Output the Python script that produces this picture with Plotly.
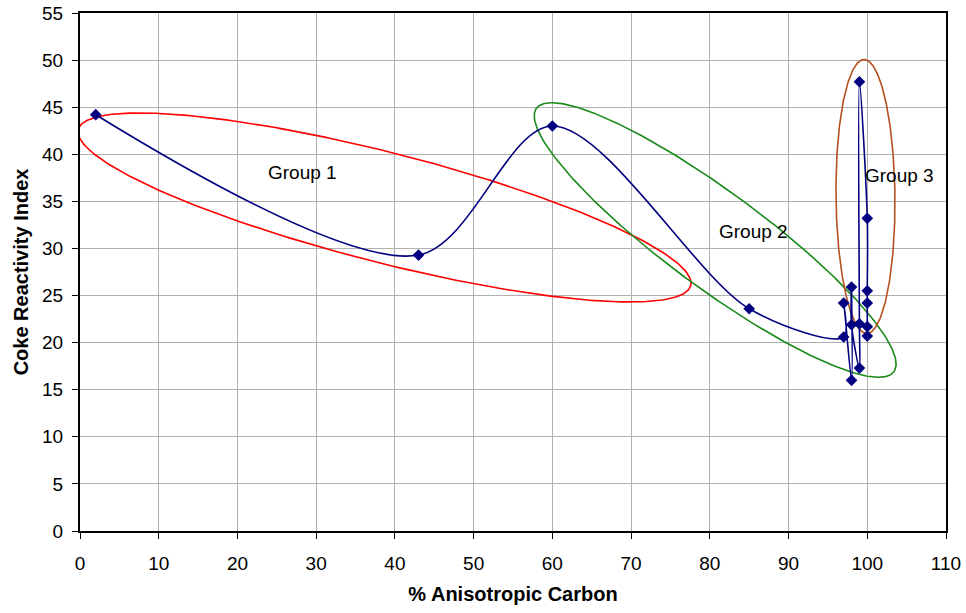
import numpy as np
import plotly.graph_objects as go

# ---- data ----
anisotropic_carbon = [2, 43, 60, 85, 97, 97, 98, 98, 98, 99, 99, 99, 100, 100, 100, 100, 100]
coke_reactivity = [44.2, 29.3, 43.0, 23.6, 20.6, 24.2, 16.0, 25.9, 21.9, 17.3, 22.0, 47.7, 33.2, 25.5, 24.2, 21.7, 20.7]

x_ticks = list(range(0, 111, 10))
y_ticks = list(range(0, 56, 5))

group_names = ["Group 1", "Group 2", "Group 3"]
group_label_x = [28.2, 85.6, 99.45]
group_label_y = [38.1, 31.8, 37.7]
group_label_anchor = ["center", "center", "left"]

# ellipse annotations: centre (data units), semi-axes (px), angle (deg, screen)
ell_cx = [38.68, 80.68, 99.77]
ell_cy = [34.35, 30.90, 35.52]
ell_a = [316, 222, 137]
ell_b = [55, 48, 29.5]
ell_ang = [14.3, 36.4, 89.4]
ell_col = ["#ff0000", "#1a8a1a", "#b5501e"]

# ---- layout geometry ----
W, H = 966, 613
ML, MR, MT, MB = 80, 20, 13, 82
x_range = [0, 110]
y_range = [0, 55]
px_x = (W - ML - MR) / (x_range[1] - x_range[0])
px_y = (H - MT - MB) / (y_range[1] - y_range[0])

FONT = "Liberation Sans, Arial"

fig = go.Figure()

t = np.linspace(0, 2 * np.pi, 400)
for cx, cy, a, b, ang, col in zip(ell_cx, ell_cy, ell_a, ell_b, ell_ang, ell_col):
    th = np.deg2rad(ang)
    X = a * np.cos(t) * np.cos(th) - b * np.sin(t) * np.sin(th)
    Y = a * np.cos(t) * np.sin(th) + b * np.sin(t) * np.cos(th)
    fig.add_trace(go.Scatter(
        x=cx + X / px_x, y=cy - Y / px_y, mode="lines",
        line=dict(color=col, width=1.6), hoverinfo="skip", showlegend=False,
    ))

fig.add_trace(go.Scatter(
    x=anisotropic_carbon, y=coke_reactivity, mode="lines+markers",
    line=dict(color="#000080", width=1.6, shape="spline", smoothing=0.9),
    marker=dict(symbol="diamond", size=9, color="#000080"),
    showlegend=False,
))

for name, gx, gy, anc in zip(group_names, group_label_x, group_label_y, group_label_anchor):
    fig.add_annotation(x=gx, y=gy, text=name, showarrow=False, xanchor=anc,
                       font=dict(family=FONT, size=19, color="black"))

axis_common = dict(
    showgrid=True, gridcolor="#b0b0b0", gridwidth=1,
    showline=True, linecolor="black", linewidth=2, mirror=True,
    ticks="outside", ticklen=6, tickcolor="black", tickwidth=1,
    zeroline=False, automargin=False,
    tickfont=dict(family=FONT, size=19, color="black"),
)

fig.update_layout(
    width=W, height=H,
    margin=dict(l=ML, r=MR, t=MT, b=MB),
    plot_bgcolor="white", paper_bgcolor="white",
    xaxis=dict(range=x_range, tickvals=x_ticks, ticklabelstandoff=8,
               title=dict(text="<b>% Anisotropic Carbon</b>", standoff=14,
                          font=dict(family=FONT, size=20, color="black")),
               **axis_common),
    yaxis=dict(range=y_range, tickvals=y_ticks, ticklabelstandoff=5,
               title=dict(text="<b>Coke Reactivity Index</b>", standoff=8,
                          font=dict(family=FONT, size=20, color="black")),
               **axis_common),
)

fig.write_html("out.html", config={"displayModeBar": False},
               post_script="document.body.style.margin='0';document.body.style.overflow='hidden';")
